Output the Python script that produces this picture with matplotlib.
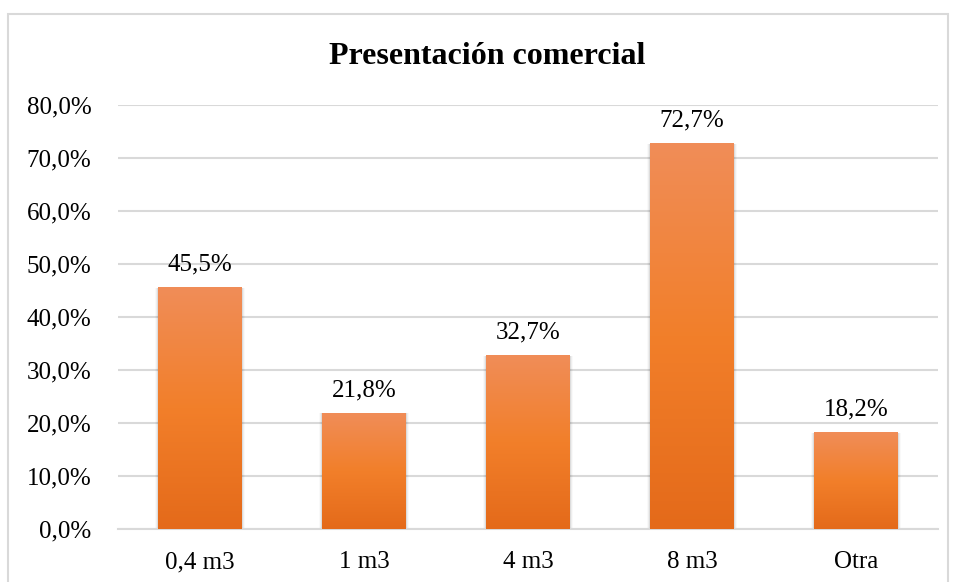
import numpy as np
import matplotlib.pyplot as plt
from matplotlib.patches import Rectangle
from matplotlib.colors import LinearSegmentedColormap
from matplotlib.ticker import FuncFormatter

categorias = ["0,4 m3", "1 m3", "4 m3", "8 m3", "Otra"]
porcentajes = [45.5, 21.8, 32.7, 72.7, 18.2]
titulo = "Presentación comercial"

plt.rcParams['font.family'] = ['Liberation Serif', 'DejaVu Serif']

fig = plt.figure(figsize=(9.57, 5.82), dpi=100)
ax = fig.add_axes([118 / 957, 53 / 582, 820 / 957, 424 / 582])

# marco del gráfico
fig.patches.append(Rectangle((8 / 957, -0.05), 940 / 957, 1.05 - 14 / 582,
                             transform=fig.transFigure, fill=False,
                             edgecolor="#D9D9D9", linewidth=1.5))

x = np.arange(len(categorias))
ancho = 0.51
barras = ax.bar(x, porcentajes, width=ancho, color="none", zorder=3)

# degradado vertical en cada barra
cmap = LinearSegmentedColormap.from_list(
    "naranja", ["#E46A1A", "#F27F2A", "#F08D58"])
grad = np.linspace(0, 1, 256).reshape(-1, 1)
for b in barras:
    x0, y0 = b.get_x(), b.get_y()
    w, h = b.get_width(), b.get_height()
    # sombra suave
    for k, a in enumerate([0.07, 0.045, 0.025]):
        d = 0.006 * (k + 1)
        ax.add_patch(Rectangle((x0 - d, y0 - d * 40), w + 2 * d,
                               h + d * 40, facecolor="black", alpha=a,
                               edgecolor="none", zorder=2))
    ax.imshow(grad, extent=(x0, x0 + w, y0, y0 + h), origin="lower",
              cmap=cmap, aspect="auto", zorder=3)

for xi, v in zip(x, porcentajes):
    ax.annotate(f"{v:.1f}%".replace(".", ","), (xi, v), xytext=(0, 9),
                textcoords="offset points", ha="center", va="bottom",
                fontsize=18, color="#000000")

ax.set_xlim(-0.5, len(categorias) - 0.5)
ax.set_ylim(0, 80)
ax.set_yticks(np.arange(0, 81, 10))
ax.yaxis.set_major_formatter(FuncFormatter(lambda v, _: f"{v:.1f}%".replace(".", ",")))
ax.set_xticks(x)
ax.set_xticklabels(categorias)
ax.tick_params(axis="both", length=0, labelsize=18, colors="#000000")
ax.tick_params(axis="y", pad=19)
ax.tick_params(axis="x", pad=16)
ax.grid(axis="y", color="#D9D9D9", linewidth=1.5, zorder=0)
for s in ["top", "right", "left"]:
    ax.spines[s].set_visible(False)
ax.spines["bottom"].set_color("#D9D9D9")
ax.spines["bottom"].set_linewidth(1.5)
ax.set_axisbelow(True)

fig.text(487 / 957, 1 - 56 / 582, titulo, ha="center",
         va="center", fontsize=23, fontweight="bold")

fig.savefig("out.png", dpi=100)
